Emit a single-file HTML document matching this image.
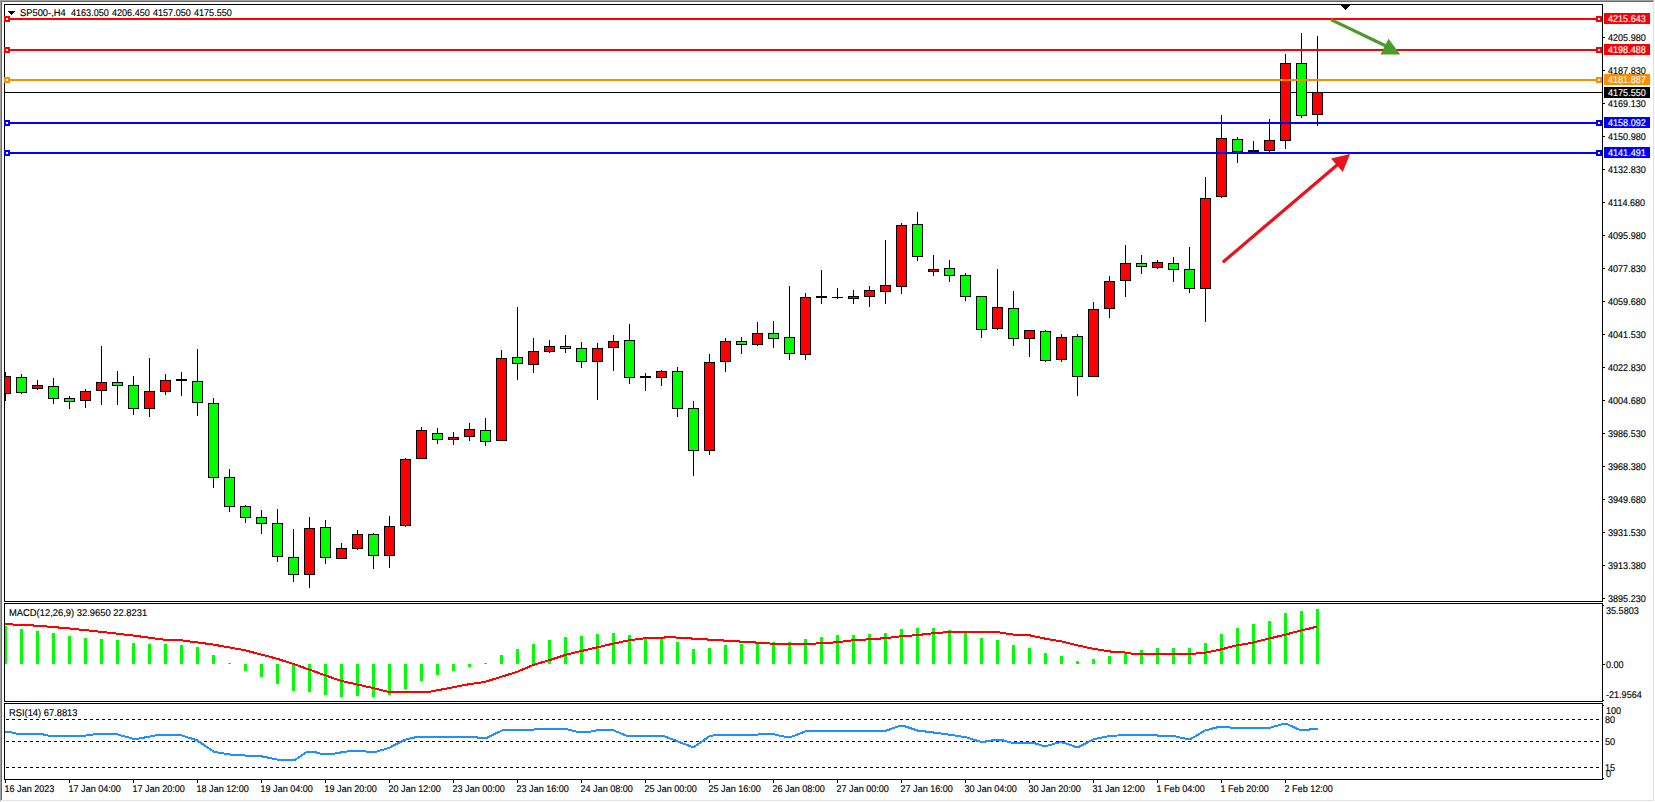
<!DOCTYPE html>
<html><head><meta charset="utf-8"><title>SP500 H4</title>
<style>
html,body{margin:0;padding:0;background:#fff;overflow:hidden}
svg{display:block}
text{font-family:"Liberation Sans",sans-serif;font-size:9.8px;white-space:pre;text-rendering:geometricPrecision}
</style></head><body>
<svg width="1655" height="802" viewBox="0 0 1655 802" shape-rendering="crispEdges">
<rect x="0" y="0" width="1655" height="802" fill="#fff"/>
<rect x="0" y="0" width="1654" height="1" fill="#a0a0a0"/>
<rect x="1" y="1" width="1652" height="1" fill="#696969"/>
<rect x="0" y="0" width="1" height="801" fill="#a0a0a0"/>
<rect x="1" y="1" width="1" height="799" fill="#696969"/>
<rect x="2" y="800" width="1652" height="1" fill="#e3e3e3"/>
<rect x="1653" y="1" width="1" height="800" fill="#e3e3e3"/>
<rect x="4" y="4" width="1599" height="1" fill="#000"/>
<rect x="4" y="601" width="1599" height="1" fill="#000"/>
<rect x="4" y="4" width="1" height="598" fill="#000"/>
<rect x="1602" y="4" width="1" height="598" fill="#000"/>
<rect x="4" y="603" width="1599" height="1" fill="#000"/>
<rect x="4" y="701" width="1599" height="1" fill="#000"/>
<rect x="4" y="603" width="1" height="99" fill="#000"/>
<rect x="1602" y="603" width="1" height="99" fill="#000"/>
<rect x="4" y="703" width="1599" height="1" fill="#000"/>
<rect x="4" y="779" width="1599" height="1" fill="#000"/>
<rect x="4" y="703" width="1" height="77" fill="#000"/>
<rect x="1602" y="703" width="1" height="77" fill="#000"/>
<clipPath id="cm"><rect x="5" y="5" width="1597" height="596"/></clipPath>
<clipPath id="c2"><rect x="5" y="604" width="1597" height="97"/></clipPath>
<clipPath id="c3"><rect x="5" y="704" width="1597" height="75"/></clipPath>
<rect x="5" y="92" width="1597" height="1" fill="#000"/>
<g clip-path="url(#cm)">
<rect x="5" y="372" width="1" height="29" fill="#000"/>
<rect x="0" y="376" width="11" height="18" fill="#000"/>
<rect x="1" y="377" width="9" height="16" fill="#ff0000"/>
<rect x="21" y="374" width="1" height="20" fill="#000"/>
<rect x="16" y="377" width="11" height="16" fill="#000"/>
<rect x="17" y="378" width="9" height="14" fill="#00ff00"/>
<rect x="37" y="380" width="1" height="10" fill="#000"/>
<rect x="32" y="385" width="11" height="4" fill="#000"/>
<rect x="33" y="386" width="9" height="2" fill="#ff0000"/>
<rect x="53" y="378" width="1" height="26" fill="#000"/>
<rect x="48" y="386" width="11" height="13" fill="#000"/>
<rect x="49" y="387" width="9" height="11" fill="#00ff00"/>
<rect x="69" y="396" width="1" height="13" fill="#000"/>
<rect x="64" y="398" width="11" height="4" fill="#000"/>
<rect x="65" y="399" width="9" height="2" fill="#00ff00"/>
<rect x="85" y="389" width="1" height="19" fill="#000"/>
<rect x="80" y="391" width="11" height="10" fill="#000"/>
<rect x="81" y="392" width="9" height="8" fill="#ff0000"/>
<rect x="101" y="346" width="1" height="59" fill="#000"/>
<rect x="96" y="382" width="11" height="9" fill="#000"/>
<rect x="97" y="383" width="9" height="7" fill="#ff0000"/>
<rect x="117" y="371" width="1" height="34" fill="#000"/>
<rect x="112" y="382" width="11" height="4" fill="#000"/>
<rect x="113" y="383" width="9" height="2" fill="#00ff00"/>
<rect x="133" y="376" width="1" height="39" fill="#000"/>
<rect x="128" y="385" width="11" height="24" fill="#000"/>
<rect x="129" y="386" width="9" height="22" fill="#00ff00"/>
<rect x="149" y="358" width="1" height="59" fill="#000"/>
<rect x="144" y="391" width="11" height="18" fill="#000"/>
<rect x="145" y="392" width="9" height="16" fill="#ff0000"/>
<rect x="165" y="374" width="1" height="21" fill="#000"/>
<rect x="160" y="380" width="11" height="12" fill="#000"/>
<rect x="161" y="381" width="9" height="10" fill="#ff0000"/>
<rect x="181" y="372" width="1" height="24" fill="#000"/>
<rect x="176" y="379" width="11" height="2" fill="#000"/>
<rect x="197" y="349" width="1" height="67" fill="#000"/>
<rect x="192" y="381" width="11" height="22" fill="#000"/>
<rect x="193" y="382" width="9" height="20" fill="#00ff00"/>
<rect x="213" y="398" width="1" height="90" fill="#000"/>
<rect x="208" y="403" width="11" height="75" fill="#000"/>
<rect x="209" y="404" width="9" height="73" fill="#00ff00"/>
<rect x="229" y="469" width="1" height="43" fill="#000"/>
<rect x="224" y="477" width="11" height="30" fill="#000"/>
<rect x="225" y="478" width="9" height="28" fill="#00ff00"/>
<rect x="245" y="505" width="1" height="18" fill="#000"/>
<rect x="240" y="506" width="11" height="12" fill="#000"/>
<rect x="241" y="507" width="9" height="10" fill="#00ff00"/>
<rect x="261" y="510" width="1" height="24" fill="#000"/>
<rect x="256" y="517" width="11" height="7" fill="#000"/>
<rect x="257" y="518" width="9" height="5" fill="#00ff00"/>
<rect x="277" y="509" width="1" height="53" fill="#000"/>
<rect x="272" y="523" width="11" height="34" fill="#000"/>
<rect x="273" y="524" width="9" height="32" fill="#00ff00"/>
<rect x="293" y="529" width="1" height="53" fill="#000"/>
<rect x="288" y="557" width="11" height="18" fill="#000"/>
<rect x="289" y="558" width="9" height="16" fill="#00ff00"/>
<rect x="309" y="517" width="1" height="71" fill="#000"/>
<rect x="304" y="528" width="11" height="47" fill="#000"/>
<rect x="305" y="529" width="9" height="45" fill="#ff0000"/>
<rect x="325" y="520" width="1" height="44" fill="#000"/>
<rect x="320" y="527" width="11" height="31" fill="#000"/>
<rect x="321" y="528" width="9" height="29" fill="#00ff00"/>
<rect x="341" y="543" width="1" height="16" fill="#000"/>
<rect x="336" y="548" width="11" height="11" fill="#000"/>
<rect x="337" y="549" width="9" height="9" fill="#ff0000"/>
<rect x="357" y="530" width="1" height="20" fill="#000"/>
<rect x="352" y="534" width="11" height="15" fill="#000"/>
<rect x="353" y="535" width="9" height="13" fill="#ff0000"/>
<rect x="373" y="533" width="1" height="36" fill="#000"/>
<rect x="368" y="534" width="11" height="22" fill="#000"/>
<rect x="369" y="535" width="9" height="20" fill="#00ff00"/>
<rect x="389" y="516" width="1" height="52" fill="#000"/>
<rect x="384" y="526" width="11" height="30" fill="#000"/>
<rect x="385" y="527" width="9" height="28" fill="#ff0000"/>
<rect x="405" y="458" width="1" height="69" fill="#000"/>
<rect x="400" y="459" width="11" height="67" fill="#000"/>
<rect x="401" y="460" width="9" height="65" fill="#ff0000"/>
<rect x="421" y="427" width="1" height="32" fill="#000"/>
<rect x="416" y="430" width="11" height="29" fill="#000"/>
<rect x="417" y="431" width="9" height="27" fill="#ff0000"/>
<rect x="437" y="428" width="1" height="16" fill="#000"/>
<rect x="432" y="433" width="11" height="7" fill="#000"/>
<rect x="433" y="434" width="9" height="5" fill="#00ff00"/>
<rect x="453" y="432" width="1" height="13" fill="#000"/>
<rect x="448" y="437" width="11" height="3" fill="#000"/>
<rect x="449" y="438" width="9" height="1" fill="#ff0000"/>
<rect x="469" y="423" width="1" height="18" fill="#000"/>
<rect x="464" y="429" width="11" height="8" fill="#000"/>
<rect x="465" y="430" width="9" height="6" fill="#ff0000"/>
<rect x="485" y="418" width="1" height="28" fill="#000"/>
<rect x="480" y="430" width="11" height="12" fill="#000"/>
<rect x="481" y="431" width="9" height="10" fill="#00ff00"/>
<rect x="501" y="350" width="1" height="91" fill="#000"/>
<rect x="496" y="358" width="11" height="83" fill="#000"/>
<rect x="497" y="359" width="9" height="81" fill="#ff0000"/>
<rect x="517" y="307" width="1" height="73" fill="#000"/>
<rect x="512" y="357" width="11" height="7" fill="#000"/>
<rect x="513" y="358" width="9" height="5" fill="#00ff00"/>
<rect x="533" y="338" width="1" height="35" fill="#000"/>
<rect x="528" y="351" width="11" height="14" fill="#000"/>
<rect x="529" y="352" width="9" height="12" fill="#ff0000"/>
<rect x="549" y="340" width="1" height="13" fill="#000"/>
<rect x="544" y="346" width="11" height="6" fill="#000"/>
<rect x="545" y="347" width="9" height="4" fill="#ff0000"/>
<rect x="565" y="335" width="1" height="18" fill="#000"/>
<rect x="560" y="346" width="11" height="3" fill="#000"/>
<rect x="561" y="347" width="9" height="1" fill="#00ff00"/>
<rect x="581" y="342" width="1" height="26" fill="#000"/>
<rect x="576" y="348" width="11" height="14" fill="#000"/>
<rect x="577" y="349" width="9" height="12" fill="#00ff00"/>
<rect x="597" y="343" width="1" height="57" fill="#000"/>
<rect x="592" y="348" width="11" height="14" fill="#000"/>
<rect x="593" y="349" width="9" height="12" fill="#ff0000"/>
<rect x="613" y="335" width="1" height="36" fill="#000"/>
<rect x="608" y="341" width="11" height="7" fill="#000"/>
<rect x="609" y="342" width="9" height="5" fill="#ff0000"/>
<rect x="629" y="324" width="1" height="60" fill="#000"/>
<rect x="624" y="340" width="11" height="38" fill="#000"/>
<rect x="625" y="341" width="9" height="36" fill="#00ff00"/>
<rect x="645" y="373" width="1" height="18" fill="#000"/>
<rect x="640" y="376" width="11" height="2" fill="#000"/>
<rect x="661" y="370" width="1" height="16" fill="#000"/>
<rect x="656" y="371" width="11" height="7" fill="#000"/>
<rect x="657" y="372" width="9" height="5" fill="#ff0000"/>
<rect x="677" y="367" width="1" height="50" fill="#000"/>
<rect x="672" y="371" width="11" height="38" fill="#000"/>
<rect x="673" y="372" width="9" height="36" fill="#00ff00"/>
<rect x="693" y="401" width="1" height="75" fill="#000"/>
<rect x="688" y="408" width="11" height="43" fill="#000"/>
<rect x="689" y="409" width="9" height="41" fill="#00ff00"/>
<rect x="709" y="354" width="1" height="101" fill="#000"/>
<rect x="704" y="362" width="11" height="89" fill="#000"/>
<rect x="705" y="363" width="9" height="87" fill="#ff0000"/>
<rect x="725" y="338" width="1" height="34" fill="#000"/>
<rect x="720" y="341" width="11" height="21" fill="#000"/>
<rect x="721" y="342" width="9" height="19" fill="#ff0000"/>
<rect x="741" y="337" width="1" height="17" fill="#000"/>
<rect x="736" y="341" width="11" height="4" fill="#000"/>
<rect x="737" y="342" width="9" height="2" fill="#00ff00"/>
<rect x="757" y="322" width="1" height="24" fill="#000"/>
<rect x="752" y="333" width="11" height="12" fill="#000"/>
<rect x="753" y="334" width="9" height="10" fill="#ff0000"/>
<rect x="773" y="321" width="1" height="27" fill="#000"/>
<rect x="768" y="333" width="11" height="6" fill="#000"/>
<rect x="769" y="334" width="9" height="4" fill="#00ff00"/>
<rect x="789" y="286" width="1" height="74" fill="#000"/>
<rect x="784" y="337" width="11" height="17" fill="#000"/>
<rect x="785" y="338" width="9" height="15" fill="#00ff00"/>
<rect x="805" y="293" width="1" height="67" fill="#000"/>
<rect x="800" y="297" width="11" height="58" fill="#000"/>
<rect x="801" y="298" width="9" height="56" fill="#ff0000"/>
<rect x="821" y="270" width="1" height="34" fill="#000"/>
<rect x="816" y="296" width="11" height="2" fill="#000"/>
<rect x="837" y="288" width="1" height="11" fill="#000"/>
<rect x="832" y="297" width="11" height="1" fill="#000"/>
<rect x="853" y="290" width="1" height="14" fill="#000"/>
<rect x="848" y="296" width="11" height="3" fill="#000"/>
<rect x="849" y="297" width="9" height="1" fill="#ff0000"/>
<rect x="869" y="286" width="1" height="21" fill="#000"/>
<rect x="864" y="290" width="11" height="7" fill="#000"/>
<rect x="865" y="291" width="9" height="5" fill="#ff0000"/>
<rect x="885" y="240" width="1" height="64" fill="#000"/>
<rect x="880" y="285" width="11" height="7" fill="#000"/>
<rect x="881" y="286" width="9" height="5" fill="#ff0000"/>
<rect x="901" y="223" width="1" height="71" fill="#000"/>
<rect x="896" y="225" width="11" height="62" fill="#000"/>
<rect x="897" y="226" width="9" height="60" fill="#ff0000"/>
<rect x="917" y="212" width="1" height="49" fill="#000"/>
<rect x="912" y="224" width="11" height="33" fill="#000"/>
<rect x="913" y="225" width="9" height="31" fill="#00ff00"/>
<rect x="933" y="255" width="1" height="21" fill="#000"/>
<rect x="928" y="269" width="11" height="3" fill="#000"/>
<rect x="929" y="270" width="9" height="1" fill="#ff0000"/>
<rect x="949" y="260" width="1" height="22" fill="#000"/>
<rect x="944" y="268" width="11" height="8" fill="#000"/>
<rect x="945" y="269" width="9" height="6" fill="#00ff00"/>
<rect x="965" y="273" width="1" height="28" fill="#000"/>
<rect x="960" y="275" width="11" height="22" fill="#000"/>
<rect x="961" y="276" width="9" height="20" fill="#00ff00"/>
<rect x="981" y="296" width="1" height="42" fill="#000"/>
<rect x="976" y="296" width="11" height="34" fill="#000"/>
<rect x="977" y="297" width="9" height="32" fill="#00ff00"/>
<rect x="997" y="269" width="1" height="61" fill="#000"/>
<rect x="992" y="307" width="11" height="22" fill="#000"/>
<rect x="993" y="308" width="9" height="20" fill="#ff0000"/>
<rect x="1013" y="291" width="1" height="55" fill="#000"/>
<rect x="1008" y="308" width="11" height="31" fill="#000"/>
<rect x="1009" y="309" width="9" height="29" fill="#00ff00"/>
<rect x="1029" y="330" width="1" height="27" fill="#000"/>
<rect x="1024" y="330" width="11" height="9" fill="#000"/>
<rect x="1025" y="331" width="9" height="7" fill="#ff0000"/>
<rect x="1045" y="330" width="1" height="32" fill="#000"/>
<rect x="1040" y="331" width="11" height="30" fill="#000"/>
<rect x="1041" y="332" width="9" height="28" fill="#00ff00"/>
<rect x="1061" y="334" width="1" height="28" fill="#000"/>
<rect x="1056" y="337" width="11" height="23" fill="#000"/>
<rect x="1057" y="338" width="9" height="21" fill="#ff0000"/>
<rect x="1077" y="334" width="1" height="62" fill="#000"/>
<rect x="1072" y="336" width="11" height="41" fill="#000"/>
<rect x="1073" y="337" width="9" height="39" fill="#00ff00"/>
<rect x="1093" y="302" width="1" height="75" fill="#000"/>
<rect x="1088" y="309" width="11" height="68" fill="#000"/>
<rect x="1089" y="310" width="9" height="66" fill="#ff0000"/>
<rect x="1109" y="276" width="1" height="42" fill="#000"/>
<rect x="1104" y="281" width="11" height="28" fill="#000"/>
<rect x="1105" y="282" width="9" height="26" fill="#ff0000"/>
<rect x="1125" y="245" width="1" height="52" fill="#000"/>
<rect x="1120" y="263" width="11" height="18" fill="#000"/>
<rect x="1121" y="264" width="9" height="16" fill="#ff0000"/>
<rect x="1141" y="255" width="1" height="19" fill="#000"/>
<rect x="1136" y="263" width="11" height="4" fill="#000"/>
<rect x="1137" y="264" width="9" height="2" fill="#00ff00"/>
<rect x="1157" y="260" width="1" height="9" fill="#000"/>
<rect x="1152" y="262" width="11" height="6" fill="#000"/>
<rect x="1153" y="263" width="9" height="4" fill="#ff0000"/>
<rect x="1173" y="257" width="1" height="25" fill="#000"/>
<rect x="1168" y="263" width="11" height="7" fill="#000"/>
<rect x="1169" y="264" width="9" height="5" fill="#00ff00"/>
<rect x="1189" y="247" width="1" height="46" fill="#000"/>
<rect x="1184" y="269" width="11" height="20" fill="#000"/>
<rect x="1185" y="270" width="9" height="18" fill="#00ff00"/>
<rect x="1205" y="177" width="1" height="145" fill="#000"/>
<rect x="1200" y="198" width="11" height="91" fill="#000"/>
<rect x="1201" y="199" width="9" height="89" fill="#ff0000"/>
<rect x="1221" y="115" width="1" height="83" fill="#000"/>
<rect x="1216" y="138" width="11" height="59" fill="#000"/>
<rect x="1217" y="139" width="9" height="57" fill="#ff0000"/>
<rect x="1237" y="137" width="1" height="26" fill="#000"/>
<rect x="1232" y="139" width="11" height="13" fill="#000"/>
<rect x="1233" y="140" width="9" height="11" fill="#00ff00"/>
<rect x="1253" y="141" width="1" height="11" fill="#000"/>
<rect x="1248" y="150" width="11" height="2" fill="#000"/>
<rect x="1269" y="119" width="1" height="33" fill="#000"/>
<rect x="1264" y="140" width="11" height="11" fill="#000"/>
<rect x="1265" y="141" width="9" height="9" fill="#ff0000"/>
<rect x="1285" y="54" width="1" height="95" fill="#000"/>
<rect x="1280" y="63" width="11" height="78" fill="#000"/>
<rect x="1281" y="64" width="9" height="76" fill="#ff0000"/>
<rect x="1301" y="33" width="1" height="85" fill="#000"/>
<rect x="1296" y="63" width="11" height="53" fill="#000"/>
<rect x="1297" y="64" width="9" height="51" fill="#00ff00"/>
<rect x="1317" y="36" width="1" height="90" fill="#000"/>
<rect x="1312" y="92" width="11" height="23" fill="#000"/>
<rect x="1313" y="93" width="9" height="21" fill="#ff0000"/>
</g>
<g shape-rendering="geometricPrecision">
<line x1="1222.8" y1="262.3" x2="1338" y2="164.2" stroke="#e8131c" stroke-width="3.2"/>
<polygon points="1350.1,154 1331.1,158.4 1342.7,171.9" fill="#e8131c"/>
</g>
<rect x="5" y="18" width="1597" height="2" fill="#ff0000"/>
<rect x="4" y="16" width="6" height="6" fill="#ff0000"/>
<rect x="6" y="18" width="2" height="2" fill="#fff"/>
<rect x="1596" y="16" width="6" height="6" fill="#ff0000"/>
<rect x="1598" y="18" width="2" height="2" fill="#fff"/>
<rect x="1604" y="13" width="46" height="11" fill="#ff0000"/>
<text transform="translate(1608,22) scale(0.9250,1)" fill="#fff" stroke="#fff" stroke-width="0.14" >4215.643</text>
<rect x="5" y="49" width="1597" height="2" fill="#ff0000"/>
<rect x="4" y="47" width="6" height="6" fill="#ff0000"/>
<rect x="6" y="49" width="2" height="2" fill="#fff"/>
<rect x="1596" y="47" width="6" height="6" fill="#ff0000"/>
<rect x="1598" y="49" width="2" height="2" fill="#fff"/>
<rect x="1604" y="44" width="46" height="11" fill="#ff0000"/>
<text transform="translate(1608,53) scale(0.9250,1)" fill="#fff" stroke="#fff" stroke-width="0.14" >4198.488</text>
<rect x="5" y="79" width="1597" height="2" fill="#ff8c00"/>
<rect x="4" y="77" width="6" height="6" fill="#ff8c00"/>
<rect x="6" y="79" width="2" height="2" fill="#fff"/>
<rect x="1596" y="77" width="6" height="6" fill="#ff8c00"/>
<rect x="1598" y="79" width="2" height="2" fill="#fff"/>
<rect x="1604" y="74" width="46" height="11" fill="#ff8c00"/>
<text transform="translate(1608,83) scale(0.9250,1)" fill="#fff" stroke="#fff" stroke-width="0.14" >4181.887</text>
<rect x="5" y="122" width="1597" height="2" fill="#0000ff"/>
<rect x="4" y="120" width="6" height="6" fill="#0000ff"/>
<rect x="6" y="122" width="2" height="2" fill="#fff"/>
<rect x="1596" y="120" width="6" height="6" fill="#0000ff"/>
<rect x="1598" y="122" width="2" height="2" fill="#fff"/>
<rect x="1604" y="117" width="46" height="11" fill="#0000ff"/>
<text transform="translate(1608,126) scale(0.9250,1)" fill="#fff" stroke="#fff" stroke-width="0.14" >4158.092</text>
<rect x="5" y="152" width="1597" height="2" fill="#0000ff"/>
<rect x="4" y="150" width="6" height="6" fill="#0000ff"/>
<rect x="6" y="152" width="2" height="2" fill="#fff"/>
<rect x="1596" y="150" width="6" height="6" fill="#0000ff"/>
<rect x="1598" y="152" width="2" height="2" fill="#fff"/>
<rect x="1604" y="147" width="46" height="11" fill="#0000ff"/>
<text transform="translate(1608,156) scale(0.9250,1)" fill="#fff" stroke="#fff" stroke-width="0.14" >4141.491</text>
<rect x="1604" y="87" width="46" height="11" fill="#000"/>
<text transform="translate(1608,96) scale(0.9250,1)" fill="#fff" stroke="#fff" stroke-width="0.14" >4175.550</text>
<g shape-rendering="geometricPrecision">
<line x1="1331" y1="19.6" x2="1386.5" y2="46.2" stroke="#4c9a2a" stroke-width="3.2"/>
<polygon points="1388.5,38.8 1380.5,54.4 1400.3,54.4" fill="#4c9a2a"/>
</g>
<rect x="1341" y="5" width="9" height="1" fill="#000"/>
<rect x="1342" y="6" width="7" height="1" fill="#000"/>
<rect x="1343" y="7" width="5" height="1" fill="#000"/>
<rect x="1344" y="8" width="3" height="1" fill="#000"/>
<rect x="1345" y="9" width="1" height="1" fill="#000"/>
<rect x="8" y="11" width="7" height="1" fill="#000"/>
<rect x="9" y="12" width="5" height="1" fill="#000"/>
<rect x="10" y="13" width="3" height="1" fill="#000"/>
<rect x="11" y="14" width="1" height="1" fill="#000"/>
<text transform="translate(20,16) scale(0.9528,1)" fill="#000" stroke="#000" stroke-width="0.14" >SP500-,H4</text>
<text transform="translate(71,16) scale(0.9250,1)" fill="#000" stroke="#000" stroke-width="0.14" >4163.050</text>
<text transform="translate(112,16) scale(0.9250,1)" fill="#000" stroke="#000" stroke-width="0.14" >4206.450</text>
<text transform="translate(153,16) scale(0.9250,1)" fill="#000" stroke="#000" stroke-width="0.14" >4157.050</text>
<text transform="translate(194,16) scale(0.9250,1)" fill="#000" stroke="#000" stroke-width="0.14" >4175.550</text>
<rect x="1603" y="37" width="2" height="1" fill="#000"/>
<text transform="translate(1608,41) scale(0.9250,1)" fill="#000" stroke="#000" stroke-width="0.14" >4205.980</text>
<rect x="1603" y="70" width="2" height="1" fill="#000"/>
<text transform="translate(1608,74) scale(0.9250,1)" fill="#000" stroke="#000" stroke-width="0.14" >4187.830</text>
<rect x="1603" y="103" width="2" height="1" fill="#000"/>
<text transform="translate(1608,107) scale(0.9250,1)" fill="#000" stroke="#000" stroke-width="0.14" >4169.130</text>
<rect x="1603" y="136" width="2" height="1" fill="#000"/>
<text transform="translate(1608,140) scale(0.9250,1)" fill="#000" stroke="#000" stroke-width="0.14" >4150.980</text>
<rect x="1603" y="169" width="2" height="1" fill="#000"/>
<text transform="translate(1608,173) scale(0.9250,1)" fill="#000" stroke="#000" stroke-width="0.14" >4132.830</text>
<rect x="1603" y="202" width="2" height="1" fill="#000"/>
<text transform="translate(1608,206) scale(0.9250,1)" fill="#000" stroke="#000" stroke-width="0.14" >4114.680</text>
<rect x="1603" y="235" width="2" height="1" fill="#000"/>
<text transform="translate(1608,239) scale(0.9250,1)" fill="#000" stroke="#000" stroke-width="0.14" >4095.980</text>
<rect x="1603" y="268" width="2" height="1" fill="#000"/>
<text transform="translate(1608,272) scale(0.9250,1)" fill="#000" stroke="#000" stroke-width="0.14" >4077.830</text>
<rect x="1603" y="301" width="2" height="1" fill="#000"/>
<text transform="translate(1608,305) scale(0.9250,1)" fill="#000" stroke="#000" stroke-width="0.14" >4059.680</text>
<rect x="1603" y="334" width="2" height="1" fill="#000"/>
<text transform="translate(1608,338) scale(0.9250,1)" fill="#000" stroke="#000" stroke-width="0.14" >4041.530</text>
<rect x="1603" y="367" width="2" height="1" fill="#000"/>
<text transform="translate(1608,371) scale(0.9250,1)" fill="#000" stroke="#000" stroke-width="0.14" >4022.830</text>
<rect x="1603" y="400" width="2" height="1" fill="#000"/>
<text transform="translate(1608,404) scale(0.9250,1)" fill="#000" stroke="#000" stroke-width="0.14" >4004.680</text>
<rect x="1603" y="433" width="2" height="1" fill="#000"/>
<text transform="translate(1608,437) scale(0.9250,1)" fill="#000" stroke="#000" stroke-width="0.14" >3986.530</text>
<rect x="1603" y="466" width="2" height="1" fill="#000"/>
<text transform="translate(1608,470) scale(0.9250,1)" fill="#000" stroke="#000" stroke-width="0.14" >3968.380</text>
<rect x="1603" y="499" width="2" height="1" fill="#000"/>
<text transform="translate(1608,503) scale(0.9250,1)" fill="#000" stroke="#000" stroke-width="0.14" >3949.680</text>
<rect x="1603" y="532" width="2" height="1" fill="#000"/>
<text transform="translate(1608,536) scale(0.9250,1)" fill="#000" stroke="#000" stroke-width="0.14" >3931.530</text>
<rect x="1603" y="565" width="2" height="1" fill="#000"/>
<text transform="translate(1608,569) scale(0.9250,1)" fill="#000" stroke="#000" stroke-width="0.14" >3913.380</text>
<rect x="1603" y="598" width="2" height="1" fill="#000"/>
<text transform="translate(1608,602) scale(0.9250,1)" fill="#000" stroke="#000" stroke-width="0.14" >3895.230</text>
<g clip-path="url(#c2)">
<rect x="4" y="626" width="3" height="38" fill="#00ff00"/>
<rect x="20" y="629" width="3" height="35" fill="#00ff00"/>
<rect x="36" y="631" width="3" height="33" fill="#00ff00"/>
<rect x="52" y="633" width="3" height="31" fill="#00ff00"/>
<rect x="68" y="636" width="3" height="28" fill="#00ff00"/>
<rect x="84" y="638" width="3" height="26" fill="#00ff00"/>
<rect x="100" y="639" width="3" height="25" fill="#00ff00"/>
<rect x="116" y="640" width="3" height="24" fill="#00ff00"/>
<rect x="132" y="643" width="3" height="21" fill="#00ff00"/>
<rect x="148" y="644" width="3" height="20" fill="#00ff00"/>
<rect x="164" y="644" width="3" height="20" fill="#00ff00"/>
<rect x="180" y="645" width="3" height="19" fill="#00ff00"/>
<rect x="196" y="647" width="3" height="17" fill="#00ff00"/>
<rect x="212" y="655" width="3" height="9" fill="#00ff00"/>
<rect x="228" y="663" width="3" height="1" fill="#00ff00"/>
<rect x="244" y="664" width="3" height="7" fill="#00ff00"/>
<rect x="260" y="664" width="3" height="13" fill="#00ff00"/>
<rect x="276" y="664" width="3" height="20" fill="#00ff00"/>
<rect x="292" y="664" width="3" height="27" fill="#00ff00"/>
<rect x="308" y="664" width="3" height="28" fill="#00ff00"/>
<rect x="324" y="664" width="3" height="31" fill="#00ff00"/>
<rect x="340" y="664" width="3" height="33" fill="#00ff00"/>
<rect x="356" y="664" width="3" height="32" fill="#00ff00"/>
<rect x="372" y="664" width="3" height="33" fill="#00ff00"/>
<rect x="388" y="664" width="3" height="31" fill="#00ff00"/>
<rect x="404" y="664" width="3" height="25" fill="#00ff00"/>
<rect x="420" y="664" width="3" height="17" fill="#00ff00"/>
<rect x="436" y="664" width="3" height="11" fill="#00ff00"/>
<rect x="452" y="664" width="3" height="7" fill="#00ff00"/>
<rect x="468" y="664" width="3" height="3" fill="#00ff00"/>
<rect x="484" y="663" width="3" height="1" fill="#00ff00"/>
<rect x="500" y="655" width="3" height="9" fill="#00ff00"/>
<rect x="516" y="649" width="3" height="15" fill="#00ff00"/>
<rect x="532" y="644" width="3" height="20" fill="#00ff00"/>
<rect x="548" y="640" width="3" height="24" fill="#00ff00"/>
<rect x="564" y="637" width="3" height="27" fill="#00ff00"/>
<rect x="580" y="636" width="3" height="28" fill="#00ff00"/>
<rect x="596" y="634" width="3" height="30" fill="#00ff00"/>
<rect x="612" y="633" width="3" height="31" fill="#00ff00"/>
<rect x="628" y="635" width="3" height="29" fill="#00ff00"/>
<rect x="644" y="637" width="3" height="27" fill="#00ff00"/>
<rect x="660" y="638" width="3" height="26" fill="#00ff00"/>
<rect x="676" y="642" width="3" height="22" fill="#00ff00"/>
<rect x="692" y="649" width="3" height="15" fill="#00ff00"/>
<rect x="708" y="648" width="3" height="16" fill="#00ff00"/>
<rect x="724" y="645" width="3" height="19" fill="#00ff00"/>
<rect x="740" y="644" width="3" height="20" fill="#00ff00"/>
<rect x="756" y="643" width="3" height="21" fill="#00ff00"/>
<rect x="772" y="642" width="3" height="22" fill="#00ff00"/>
<rect x="788" y="642" width="3" height="22" fill="#00ff00"/>
<rect x="804" y="639" width="3" height="25" fill="#00ff00"/>
<rect x="820" y="637" width="3" height="27" fill="#00ff00"/>
<rect x="836" y="635" width="3" height="29" fill="#00ff00"/>
<rect x="852" y="635" width="3" height="29" fill="#00ff00"/>
<rect x="868" y="634" width="3" height="30" fill="#00ff00"/>
<rect x="884" y="633" width="3" height="31" fill="#00ff00"/>
<rect x="900" y="629" width="3" height="35" fill="#00ff00"/>
<rect x="916" y="628" width="3" height="36" fill="#00ff00"/>
<rect x="932" y="628" width="3" height="36" fill="#00ff00"/>
<rect x="948" y="630" width="3" height="34" fill="#00ff00"/>
<rect x="964" y="633" width="3" height="31" fill="#00ff00"/>
<rect x="980" y="638" width="3" height="26" fill="#00ff00"/>
<rect x="996" y="640" width="3" height="24" fill="#00ff00"/>
<rect x="1012" y="645" width="3" height="19" fill="#00ff00"/>
<rect x="1028" y="648" width="3" height="16" fill="#00ff00"/>
<rect x="1044" y="653" width="3" height="11" fill="#00ff00"/>
<rect x="1060" y="656" width="3" height="8" fill="#00ff00"/>
<rect x="1076" y="661" width="3" height="3" fill="#00ff00"/>
<rect x="1092" y="659" width="3" height="5" fill="#00ff00"/>
<rect x="1108" y="656" width="3" height="8" fill="#00ff00"/>
<rect x="1124" y="652" width="3" height="12" fill="#00ff00"/>
<rect x="1140" y="650" width="3" height="14" fill="#00ff00"/>
<rect x="1156" y="648" width="3" height="16" fill="#00ff00"/>
<rect x="1172" y="648" width="3" height="16" fill="#00ff00"/>
<rect x="1188" y="648" width="3" height="16" fill="#00ff00"/>
<rect x="1204" y="643" width="3" height="21" fill="#00ff00"/>
<rect x="1220" y="634" width="3" height="30" fill="#00ff00"/>
<rect x="1236" y="628" width="3" height="36" fill="#00ff00"/>
<rect x="1252" y="624" width="3" height="40" fill="#00ff00"/>
<rect x="1268" y="621" width="3" height="43" fill="#00ff00"/>
<rect x="1284" y="613" width="3" height="51" fill="#00ff00"/>
<rect x="1300" y="611" width="3" height="53" fill="#00ff00"/>
<rect x="1316" y="609" width="3" height="55" fill="#00ff00"/>
<polyline points="5,624.2 22,624.9 37,625.7 69,628.4 101,631.8 133,635.5 165,639.8 181,640.3 213,644.5 245,650.3 277,658.7 293.5,664 341,680.9 373,688 388.4,691.9 429,691.9 469.7,684.1 485,681.9 517,671.9 533,665.1 549,660.3 565,655 581,651.1 597,647.4 613,643.7 629,640.3 645,638.2 661,637.9 670,636.9 677,637.6 693,638.6 709,639.6 725,640.6 741,641.6 757,642.6 773,643.7 790,644 810,644 821,643.1 837,642.3 853,640.3 869,639.3 885,638.2 901,636.2 917,635.2 933,633.2 949,632.1 997,632.1 1013,634.5 1029,635.2 1045,638.6 1061,641.3 1077,645.3 1093,648.7 1109,651.4 1125,652.5 1134,654 1189,654 1205,652.8 1221,649.4 1237,645.3 1253,642.6 1269,638.6 1285,634.7 1301,630.5 1317,626.7" fill="none" stroke="#ff0000" stroke-width="2" shape-rendering="crispEdges"/>
</g>
<text transform="translate(9,616) scale(0.9574,1)" fill="#000" stroke="#000" stroke-width="0.14" >MACD(12,26,9) 32.9650 22.8231</text>
<rect x="1603" y="605" width="1" height="1" fill="#000"/>
<rect x="1603" y="700" width="1" height="1" fill="#000"/>
<rect x="1603" y="664" width="2" height="1" fill="#000"/>
<text transform="translate(1606,614) scale(0.9250,1)" fill="#000" stroke="#000" stroke-width="0.14" >35.5803</text>
<text transform="translate(1606,668) scale(0.9250,1)" fill="#000" stroke="#000" stroke-width="0.14" >0.00</text>
<text transform="translate(1606,698) scale(0.9250,1)" fill="#000" stroke="#000" stroke-width="0.14" >-21.9564</text>
<line x1="6" y1="719.5" x2="1602" y2="719.5" stroke="#000" stroke-width="1" stroke-dasharray="3 3" shape-rendering="crispEdges"/>
<line x1="6" y1="741.5" x2="1602" y2="741.5" stroke="#000" stroke-width="1" stroke-dasharray="3 3" shape-rendering="crispEdges"/>
<line x1="6" y1="767.5" x2="1602" y2="767.5" stroke="#000" stroke-width="1" stroke-dasharray="3 3" shape-rendering="crispEdges"/>
<g clip-path="url(#c3)">
<polyline points="5,731.6 10,732.1 17,733.8 42,734.2 49,735.7 85,735.7 94,734.3 117,734.3 133.7,738.9 137,738.9 157,735.2 181,735.2 197,740.3 214,751.8 230,754.5 245,755.5 261,756.2 270,758 277.6,759.7 295.4,759.7 307.2,751.8 314,751.8 320.8,753.8 333.5,753.8 342.8,752.1 349.5,751.1 364.8,751.1 366.5,751.8 375.8,751.8 388.4,748.2 405.4,739.6 417.2,736.9 477.3,736.9 478,737.9 486.6,737.9 502.7,730.1 533.1,730.1 534.8,728.9 565.4,728.9 577.2,731.8 589,731.8 598.4,730.1 612.8,730.1 627.1,735.9 663.5,735.9 692.3,747 694,747 710,735.9 717.7,735 757.4,735 759,734 772.7,734 785.4,736.9 791.3,736.9 806.5,731 885.3,731 899.7,725.9 903.9,725.9 917.4,730.5 933.5,732.5 949.6,734.7 965.7,737.2 980,741.6 985.1,741.6 994.4,739.9 1001.2,739.9 1011.4,742.6 1032.5,742.6 1042.7,745.7 1047.7,745.7 1059.6,742.3 1063.8,742.6 1075.7,746.9 1079,746.9 1093.5,739.3 1109.6,736 1125.7,735 1157,735 1157.8,735.9 1173,735.9 1186.6,738.9 1190.8,738.9 1205.2,730.5 1217.9,727.1 1228.9,727.1 1230.6,727.9 1269.5,727.9 1282.2,724.2 1287.3,724.2 1300,730 1308.4,730 1310.1,729.1 1317.7,729.1" fill="none" stroke="#1e90ff" stroke-width="2" shape-rendering="crispEdges"/>
</g>
<text transform="translate(9,716) scale(0.9528,1)" fill="#000" stroke="#000" stroke-width="0.14" >RSI(14) 67.8813</text>
<rect x="1603" y="705" width="1" height="1" fill="#000"/>
<rect x="1603" y="778" width="1" height="1" fill="#000"/>
<text transform="translate(1606,714) scale(0.9250,1)" fill="#000" stroke="#000" stroke-width="0.14" >100</text>
<text transform="translate(1605,723) scale(0.9250,1)" fill="#000" stroke="#000" stroke-width="0.14" >80</text>
<text transform="translate(1605,745) scale(0.9250,1)" fill="#000" stroke="#000" stroke-width="0.14" >50</text>
<text transform="translate(1605,771) scale(0.9250,1)" fill="#000" stroke="#000" stroke-width="0.14" >15</text>
<text transform="translate(1606,777) scale(0.9250,1)" fill="#000" stroke="#000" stroke-width="0.14" >0</text>
<rect x="5" y="780" width="1" height="3" fill="#000"/>
<text transform="translate(4.5,792) scale(0.9250,1)" fill="#000" stroke="#000" stroke-width="0.14" >16 Jan 2023</text>
<rect x="69" y="780" width="1" height="3" fill="#000"/>
<text transform="translate(68.5,792) scale(0.9250,1)" fill="#000" stroke="#000" stroke-width="0.14" >17 Jan 04:00</text>
<rect x="133" y="780" width="1" height="3" fill="#000"/>
<text transform="translate(132.5,792) scale(0.9250,1)" fill="#000" stroke="#000" stroke-width="0.14" >17 Jan 20:00</text>
<rect x="197" y="780" width="1" height="3" fill="#000"/>
<text transform="translate(196.5,792) scale(0.9250,1)" fill="#000" stroke="#000" stroke-width="0.14" >18 Jan 12:00</text>
<rect x="261" y="780" width="1" height="3" fill="#000"/>
<text transform="translate(260.5,792) scale(0.9250,1)" fill="#000" stroke="#000" stroke-width="0.14" >19 Jan 04:00</text>
<rect x="325" y="780" width="1" height="3" fill="#000"/>
<text transform="translate(324.5,792) scale(0.9250,1)" fill="#000" stroke="#000" stroke-width="0.14" >19 Jan 20:00</text>
<rect x="389" y="780" width="1" height="3" fill="#000"/>
<text transform="translate(388.5,792) scale(0.9250,1)" fill="#000" stroke="#000" stroke-width="0.14" >20 Jan 12:00</text>
<rect x="453" y="780" width="1" height="3" fill="#000"/>
<text transform="translate(452.5,792) scale(0.9250,1)" fill="#000" stroke="#000" stroke-width="0.14" >23 Jan 00:00</text>
<rect x="517" y="780" width="1" height="3" fill="#000"/>
<text transform="translate(516.5,792) scale(0.9250,1)" fill="#000" stroke="#000" stroke-width="0.14" >23 Jan 16:00</text>
<rect x="581" y="780" width="1" height="3" fill="#000"/>
<text transform="translate(580.5,792) scale(0.9250,1)" fill="#000" stroke="#000" stroke-width="0.14" >24 Jan 08:00</text>
<rect x="645" y="780" width="1" height="3" fill="#000"/>
<text transform="translate(644.5,792) scale(0.9250,1)" fill="#000" stroke="#000" stroke-width="0.14" >25 Jan 00:00</text>
<rect x="709" y="780" width="1" height="3" fill="#000"/>
<text transform="translate(708.5,792) scale(0.9250,1)" fill="#000" stroke="#000" stroke-width="0.14" >25 Jan 16:00</text>
<rect x="773" y="780" width="1" height="3" fill="#000"/>
<text transform="translate(772.5,792) scale(0.9250,1)" fill="#000" stroke="#000" stroke-width="0.14" >26 Jan 08:00</text>
<rect x="837" y="780" width="1" height="3" fill="#000"/>
<text transform="translate(836.5,792) scale(0.9250,1)" fill="#000" stroke="#000" stroke-width="0.14" >27 Jan 00:00</text>
<rect x="901" y="780" width="1" height="3" fill="#000"/>
<text transform="translate(900.5,792) scale(0.9250,1)" fill="#000" stroke="#000" stroke-width="0.14" >27 Jan 16:00</text>
<rect x="965" y="780" width="1" height="3" fill="#000"/>
<text transform="translate(964.5,792) scale(0.9250,1)" fill="#000" stroke="#000" stroke-width="0.14" >30 Jan 04:00</text>
<rect x="1029" y="780" width="1" height="3" fill="#000"/>
<text transform="translate(1028.5,792) scale(0.9250,1)" fill="#000" stroke="#000" stroke-width="0.14" >30 Jan 20:00</text>
<rect x="1093" y="780" width="1" height="3" fill="#000"/>
<text transform="translate(1092.5,792) scale(0.9250,1)" fill="#000" stroke="#000" stroke-width="0.14" >31 Jan 12:00</text>
<rect x="1157" y="780" width="1" height="3" fill="#000"/>
<text transform="translate(1156.5,792) scale(0.9250,1)" fill="#000" stroke="#000" stroke-width="0.14" >1 Feb 04:00</text>
<rect x="1221" y="780" width="1" height="3" fill="#000"/>
<text transform="translate(1220.5,792) scale(0.9250,1)" fill="#000" stroke="#000" stroke-width="0.14" >1 Feb 20:00</text>
<rect x="1285" y="780" width="1" height="3" fill="#000"/>
<text transform="translate(1284.5,792) scale(0.9250,1)" fill="#000" stroke="#000" stroke-width="0.14" >2 Feb 12:00</text>
</svg>
</body></html>
